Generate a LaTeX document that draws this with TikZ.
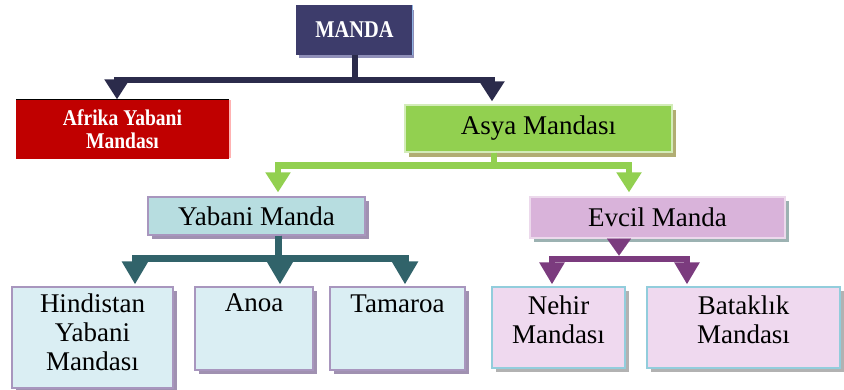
\documentclass[tikz,border=0pt]{standalone}
\usepackage{fontspec}
\usepackage{graphicx}
\setmainfont{Liberation Serif}
\usetikzlibrary{arrows.meta,shadows}
\definecolor{navy}{HTML}{3D3C6B}
\definecolor{navyline}{HTML}{2B2B4B}
\definecolor{afred}{HTML}{C00000}
\definecolor{asgreen}{HTML}{92D050}
\definecolor{yabteal}{HTML}{B7DDE0}
\definecolor{lightblue}{HTML}{DAEEF3}
\definecolor{tealline}{HTML}{31636A}
\definecolor{evpurple}{HTML}{D9B3DA}
\definecolor{lightpink}{HTML}{EFD9EF}
\definecolor{purpline}{HTML}{7B3B7E}
\definecolor{purpborder}{HTML}{A896BE}
\definecolor{cyanborder}{HTML}{92CDDC}
\definecolor{mandaedge}{HTML}{8DB3E2}
\tikzset{
  box/.style={rectangle, inner sep=0pt, line width=1.2pt},
  bigtxt/.style={font=\fontsize{27}{29}\selectfont, align=center, inner sep=0pt, text=black},
  cnavy/.style={draw=navyline, line width=6pt, line join=miter, -{Triangle[width=24pt,length=20pt]}},
  cgreen/.style={draw=asgreen, line width=6.5pt, line join=miter, -{Triangle[width=24pt,length=20pt]}},
  cteal/.style={draw=tealline, line width=7pt, line join=miter, -{Triangle[width=25pt,length=23pt]}},
  cpurple/.style={draw=purpline, line width=6pt, line join=miter, -{Triangle[width=24pt,length=22pt]}},
  ctri/.style={draw=purpline, line width=0.1pt, -{Triangle[width=24pt,length=17pt]}},
}
\begin{document}
\begin{tikzpicture}[x=1pt,y=-1pt]
\useasboundingbox (0,0) rectangle (844,390);
% top
\node[box, fill=navy, draw=navy, minimum width=115, minimum height=48,
  drop shadow={shadow xshift=2pt, shadow yshift=-4pt, fill=black!10!blue!25!gray!70, opacity=1},
  font=\fontsize{24}{26}\selectfont\bfseries, text=white] (manda) at (354.5,30) {\scalebox{0.85}[1]{MANDA}};
\draw[mandaedge, line width=1.5pt] (manda.north east) -- (manda.south east);
\node[box, fill=afred, draw=afred, minimum width=211, minimum height=58,
  drop shadow={shadow xshift=3pt, shadow yshift=0pt, fill=red!30, opacity=1},
  font=\fontsize{22.5}{23.5}\selectfont\bfseries, text=white, align=center] (afr) at (122.5,129) {\scalebox{0.87}[1]{Afrika Yabani}\\\scalebox{0.87}[1]{Mandası}};
\draw[black, line width=1pt] (afr.north west) -- (afr.north east);
\node[box, fill=asgreen, draw=asgreen!40!white, minimum width=267, minimum height=47,
  drop shadow={shadow xshift=4pt, shadow yshift=-5pt, fill=olive!50!gray!70, opacity=1},
  bigtxt] (asya) at (538.5,128.5) {Asya Mandası};
% second level
\node[box, fill=yabteal, draw=purpborder, minimum width=217, minimum height=38,
  drop shadow={shadow xshift=4pt, shadow yshift=-4pt, fill=purpborder!80!gray, opacity=1},
  bigtxt] (yab) at (256.5,216) {Yabani Manda};
\node[box, fill=evpurple, draw=evpurple!50!white, minimum width=255, minimum height=41,
  drop shadow={shadow xshift=4pt, shadow yshift=-4pt, fill=teal!30!gray!60, opacity=1},
  bigtxt] (evc) at (657.5,217.5) {Evcil Manda};
% bottom boxes
\tikzset{lbox/.style={box, fill=lightblue, draw=purpborder,
  drop shadow={shadow xshift=4pt, shadow yshift=-4pt, fill=purpborder!80!gray, opacity=1}},
  pbox/.style={box, fill=lightpink, draw=cyanborder,
  drop shadow={shadow xshift=4pt, shadow yshift=-4pt, fill=gray!60, opacity=1}}}
\node[lbox, minimum width=161, minimum height=101] (hin) at (92.5,337.5) {};
\node[lbox, minimum width=118, minimum height=83] (ano) at (254,328.5) {};
\node[lbox, minimum width=135, minimum height=83] (tam) at (397.5,328.5) {};
\node[pbox, minimum width=133, minimum height=81] (neh) at (558.5,327.5) {};
\node[pbox, minimum width=193, minimum height=81] (bat) at (743.5,327.5) {};
\node[bigtxt, anchor=north] (hint) at ([yshift=-7]hin.north) {Hindistan\\Yabani\\Mandası};
\node[bigtxt, anchor=north] (anot) at ([yshift=-7]ano.north) {Anoa};
\node[bigtxt, anchor=north] (tamt) at ([yshift=-8]tam.north) {Tamaroa};
\node[bigtxt, anchor=north] (neht) at ([yshift=-9]neh.north) {Nehir\\Mandası};
\node[bigtxt, anchor=north] (batt) at ([yshift=-9]bat.north) {Bataklık\\Mandası};
% connectors
\draw[cnavy] (manda.south) -- ++(0,25) -| ([xshift=-5.5,yshift=0]afr.north);
\draw[cnavy] (manda.south) -- ++(0,25) -| ([xshift=-46.5,yshift=3]asya.north);
\draw[cgreen] ([xshift=-44.5]asya.south) -- ++(0,13) -| ([xshift=21.5,yshift=4]yab.north);
\draw[cgreen] ([xshift=-44.5]asya.south) -- ++(0,13) -| ([xshift=-28.5,yshift=4]evc.north);
\draw[cteal] ([xshift=22]yab.south) -- ++(0,23) -| ([xshift=42.5,yshift=2]hin.north);
\draw[cteal] ([xshift=22]yab.south) -- ++(0,23) -| ([xshift=26,yshift=2]ano.north);
\draw[cteal] ([xshift=22]yab.south) -- ++(0,23) -| ([xshift=7.5,yshift=2]tam.north);
\draw[ctri] ([xshift=-38.5]evc.south) -- ([xshift=-38.5,yshift=-17]evc.south);
\draw[cpurple] ([xshift=-38.5,yshift=-20.5]evc.south) -| ([xshift=-6.5,yshift=2]neh.north);
\draw[cpurple] ([xshift=-38.5,yshift=-20.5]evc.south) -| ([xshift=-56.5,yshift=2]bat.north);
\end{tikzpicture}
\end{document}
